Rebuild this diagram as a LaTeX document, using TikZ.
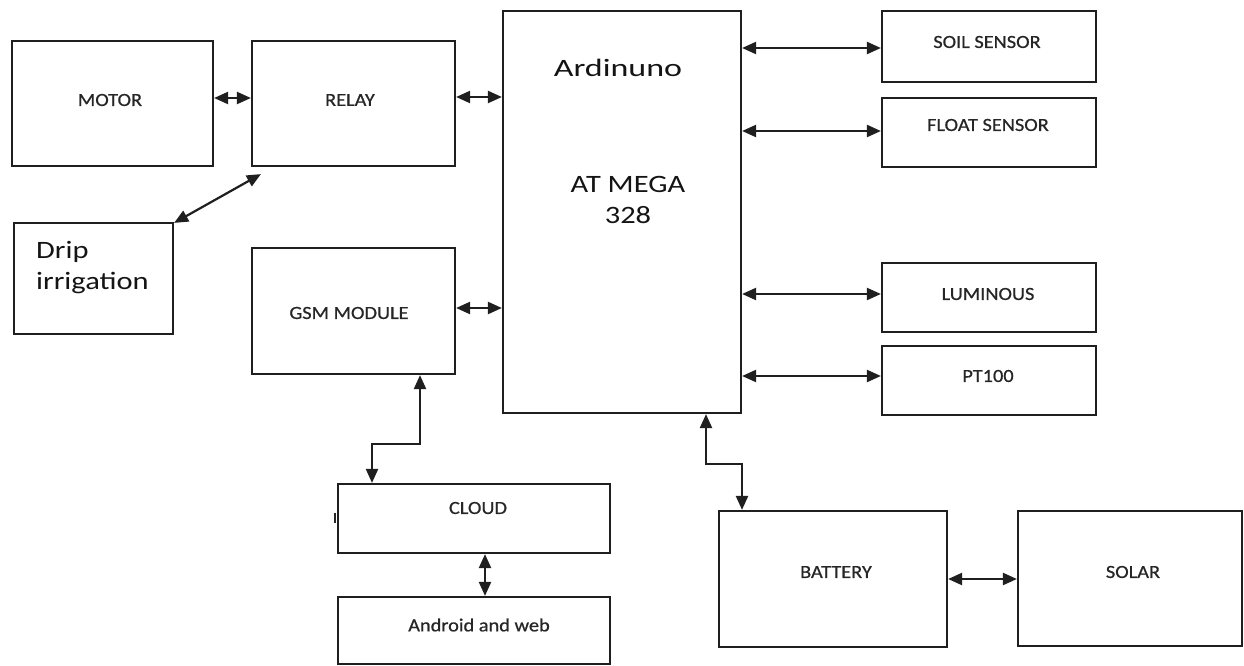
\documentclass[tikz,border=0pt]{standalone}
\usepackage{fontspec}
\setmainfont{Carlito}
\newfontfamily\smallf[FakeStretch=1.1,FakeBold=0.7]{Carlito}
\newfontfamily\bigf[FakeStretch=1.22]{Carlito}
\newfontfamily\ardf[FakeStretch=1.36]{Carlito}
\usetikzlibrary{arrows.meta}
\tikzset{
  box/.style={draw=black!88, line width=2.2pt, rectangle, inner sep=0pt},
  lab/.style={inner sep=0pt, text=black!85, font=\smallf\fontsize{18.5}{22}\selectfont},
  biglab/.style={inner sep=0pt, text=black!92, font=\bigf\fontsize{25}{31}\selectfont},
  biarrow/.style={draw=black!88, line width=2.2pt,
    {Triangle[length=14pt,width=12pt]}-{Triangle[length=14pt,width=12pt]}}
}
\begin{document}
\begin{tikzpicture}[x=1pt,y=-1pt]
\useasboundingbox (0,0) rectangle (1244,666);
% boxes
\node[box, minimum width=201pt, minimum height=125pt] (motor) at (112.5,103.5) {};
\node[box, minimum width=203pt, minimum height=125pt] (relay) at (353.5,103.5) {};
\node[box, minimum width=159pt, minimum height=111pt] (drip) at (93.5,278.5) {};
\node[box, minimum width=203pt, minimum height=126pt] (gsm) at (353.5,311) {};
\node[box, minimum width=238pt, minimum height=402pt] (ard) at (622,212) {};
\node[box, minimum width=214pt, minimum height=71pt] (soil) at (989,46.5) {};
\node[box, minimum width=214pt, minimum height=69pt] (float) at (989,132.5) {};
\node[box, minimum width=214pt, minimum height=69pt] (lum) at (989,297.5) {};
\node[box, minimum width=214pt, minimum height=69pt] (pt) at (989,380.5) {};
\node[box, minimum width=272pt, minimum height=69pt] (cloud) at (474,518.5) {};
\node[box, minimum width=272pt, minimum height=67pt] (android) at (474,630.5) {};
\node[box, minimum width=228pt, minimum height=136pt] (battery) at (833,579) {};
\node[box, minimum width=224pt, minimum height=135pt] (solar) at (1130,578.5) {};
% labels
\node[lab] (tmotor) at (110,100) {MOTOR};
\node[lab] (trelay) at (350,100) {RELAY};
\node[lab] (tgsm) at (349,313) {GSM MODULE};
\node[lab] (tsoil) at (987,42) {SOIL SENSOR};
\node[lab] (tfloat) at (988,125) {FLOAT SENSOR};
\node[lab] (tlum) at (988,294) {LUMINOUS};
\node[lab] (tpt) at (988,376) {PT100};
\node[lab] (tcloud) at (478,508) {CLOUD};
\node[lab] (tandroid) at (479,625) {Android and web};
\node[lab] (tbattery) at (836,572) {BATTERY};
\node[lab] (tsolar) at (1133,572) {SOLAR};
\node[biglab, anchor=base west, align=left] (tdrip) at (36,289) {Drip\\irrigation};
\node[biglab, font=\ardf\fontsize{25}{31}\selectfont] (tard) at (618,68) {Ardinuno};
\node[biglab, align=center] (tmega) at (628,200) {AT MEGA\\328};
% small mark on cloud
\draw[line width=2.5pt, black!85] ([shift={(-2,-6)}]cloud.west) -- ([shift={(-2,4)}]cloud.west);
% connectors
\draw[biarrow] (motor.east |- 0,98) -- (relay.west |- 0,98);
\draw[biarrow] (relay.east |- 0,97) -- (ard.west |- 0,97);
\draw[biarrow] (gsm.east |- 0,308) -- (ard.west |- 0,308);
\draw[biarrow] (ard.east |- 0,48) -- (soil.west |- 0,48);
\draw[biarrow] (ard.east |- 0,131) -- (float.west |- 0,131);
\draw[biarrow] (ard.east |- 0,294) -- (lum.west |- 0,294);
\draw[biarrow] (ard.east |- 0,376) -- (pt.west |- 0,376);
\draw[biarrow] ([shift={(0,1)}]drip.north east) -- ([shift={(10,7)}]relay.south west);
\draw[biarrow] ([xshift=66.5pt]gsm.south) -- ++(0,69) -| ([xshift=-102pt]cloud.north);
\draw[biarrow] ([xshift=11pt]cloud.south) -- ([xshift=11pt]android.north);
\draw[biarrow] ([xshift=84pt]ard.south) -- ++(0,50) -| ([xshift=-91pt]battery.north);
\draw[biarrow] (battery.east) -- (solar.west |- battery.east);
\end{tikzpicture}
\end{document}
